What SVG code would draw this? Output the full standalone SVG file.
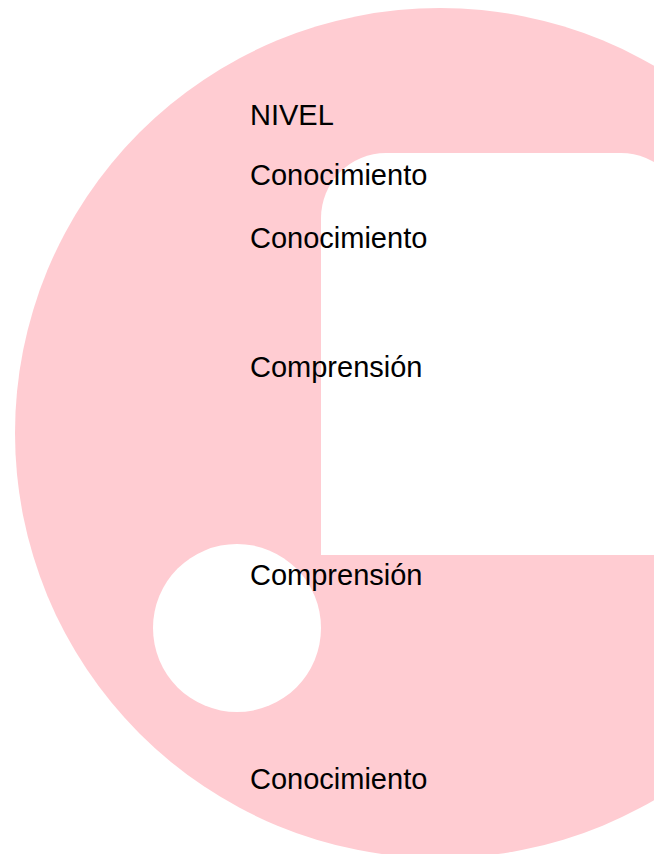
<svg xmlns="http://www.w3.org/2000/svg" width="654" height="854" viewBox="0 0 654 854">
  <style>
    .bg { fill: #ffffff; }
    .pink { fill: #ffccd2; }
    .cut { fill: #ffffff; }
    .lbl { font-family: "Liberation Sans", Arial, sans-serif; font-size: 29px; fill: #000000; }
  </style>
  <rect class="bg" x="0" y="0" width="654" height="854"/>
  <g id="shape">
    <circle class="pink" cx="440" cy="433" r="425"/>
    <path class="cut" d="M321,555 L321,218 A65,65 0 0 1 386,153 L621,153 A65,65 0 0 1 686,218 L686,555 Z"/>
    <circle class="cut" cx="237" cy="628" r="84"/>
  </g>
  <g id="labels">
    <g id="t-nivel"><text class="lbl" x="250" y="125">NIVEL</text></g>
    <g id="t-con1"><text class="lbl" x="250" y="185">Conocimiento</text></g>
    <g id="t-con2"><text class="lbl" x="250" y="248">Conocimiento</text></g>
    <g id="t-comp1"><text class="lbl" x="250" y="377">Comprensión</text></g>
    <g id="t-comp2"><text class="lbl" x="250" y="585">Comprensión</text></g>
    <g id="t-con3"><text class="lbl" x="250" y="789">Conocimiento</text></g>
  </g>
</svg>
